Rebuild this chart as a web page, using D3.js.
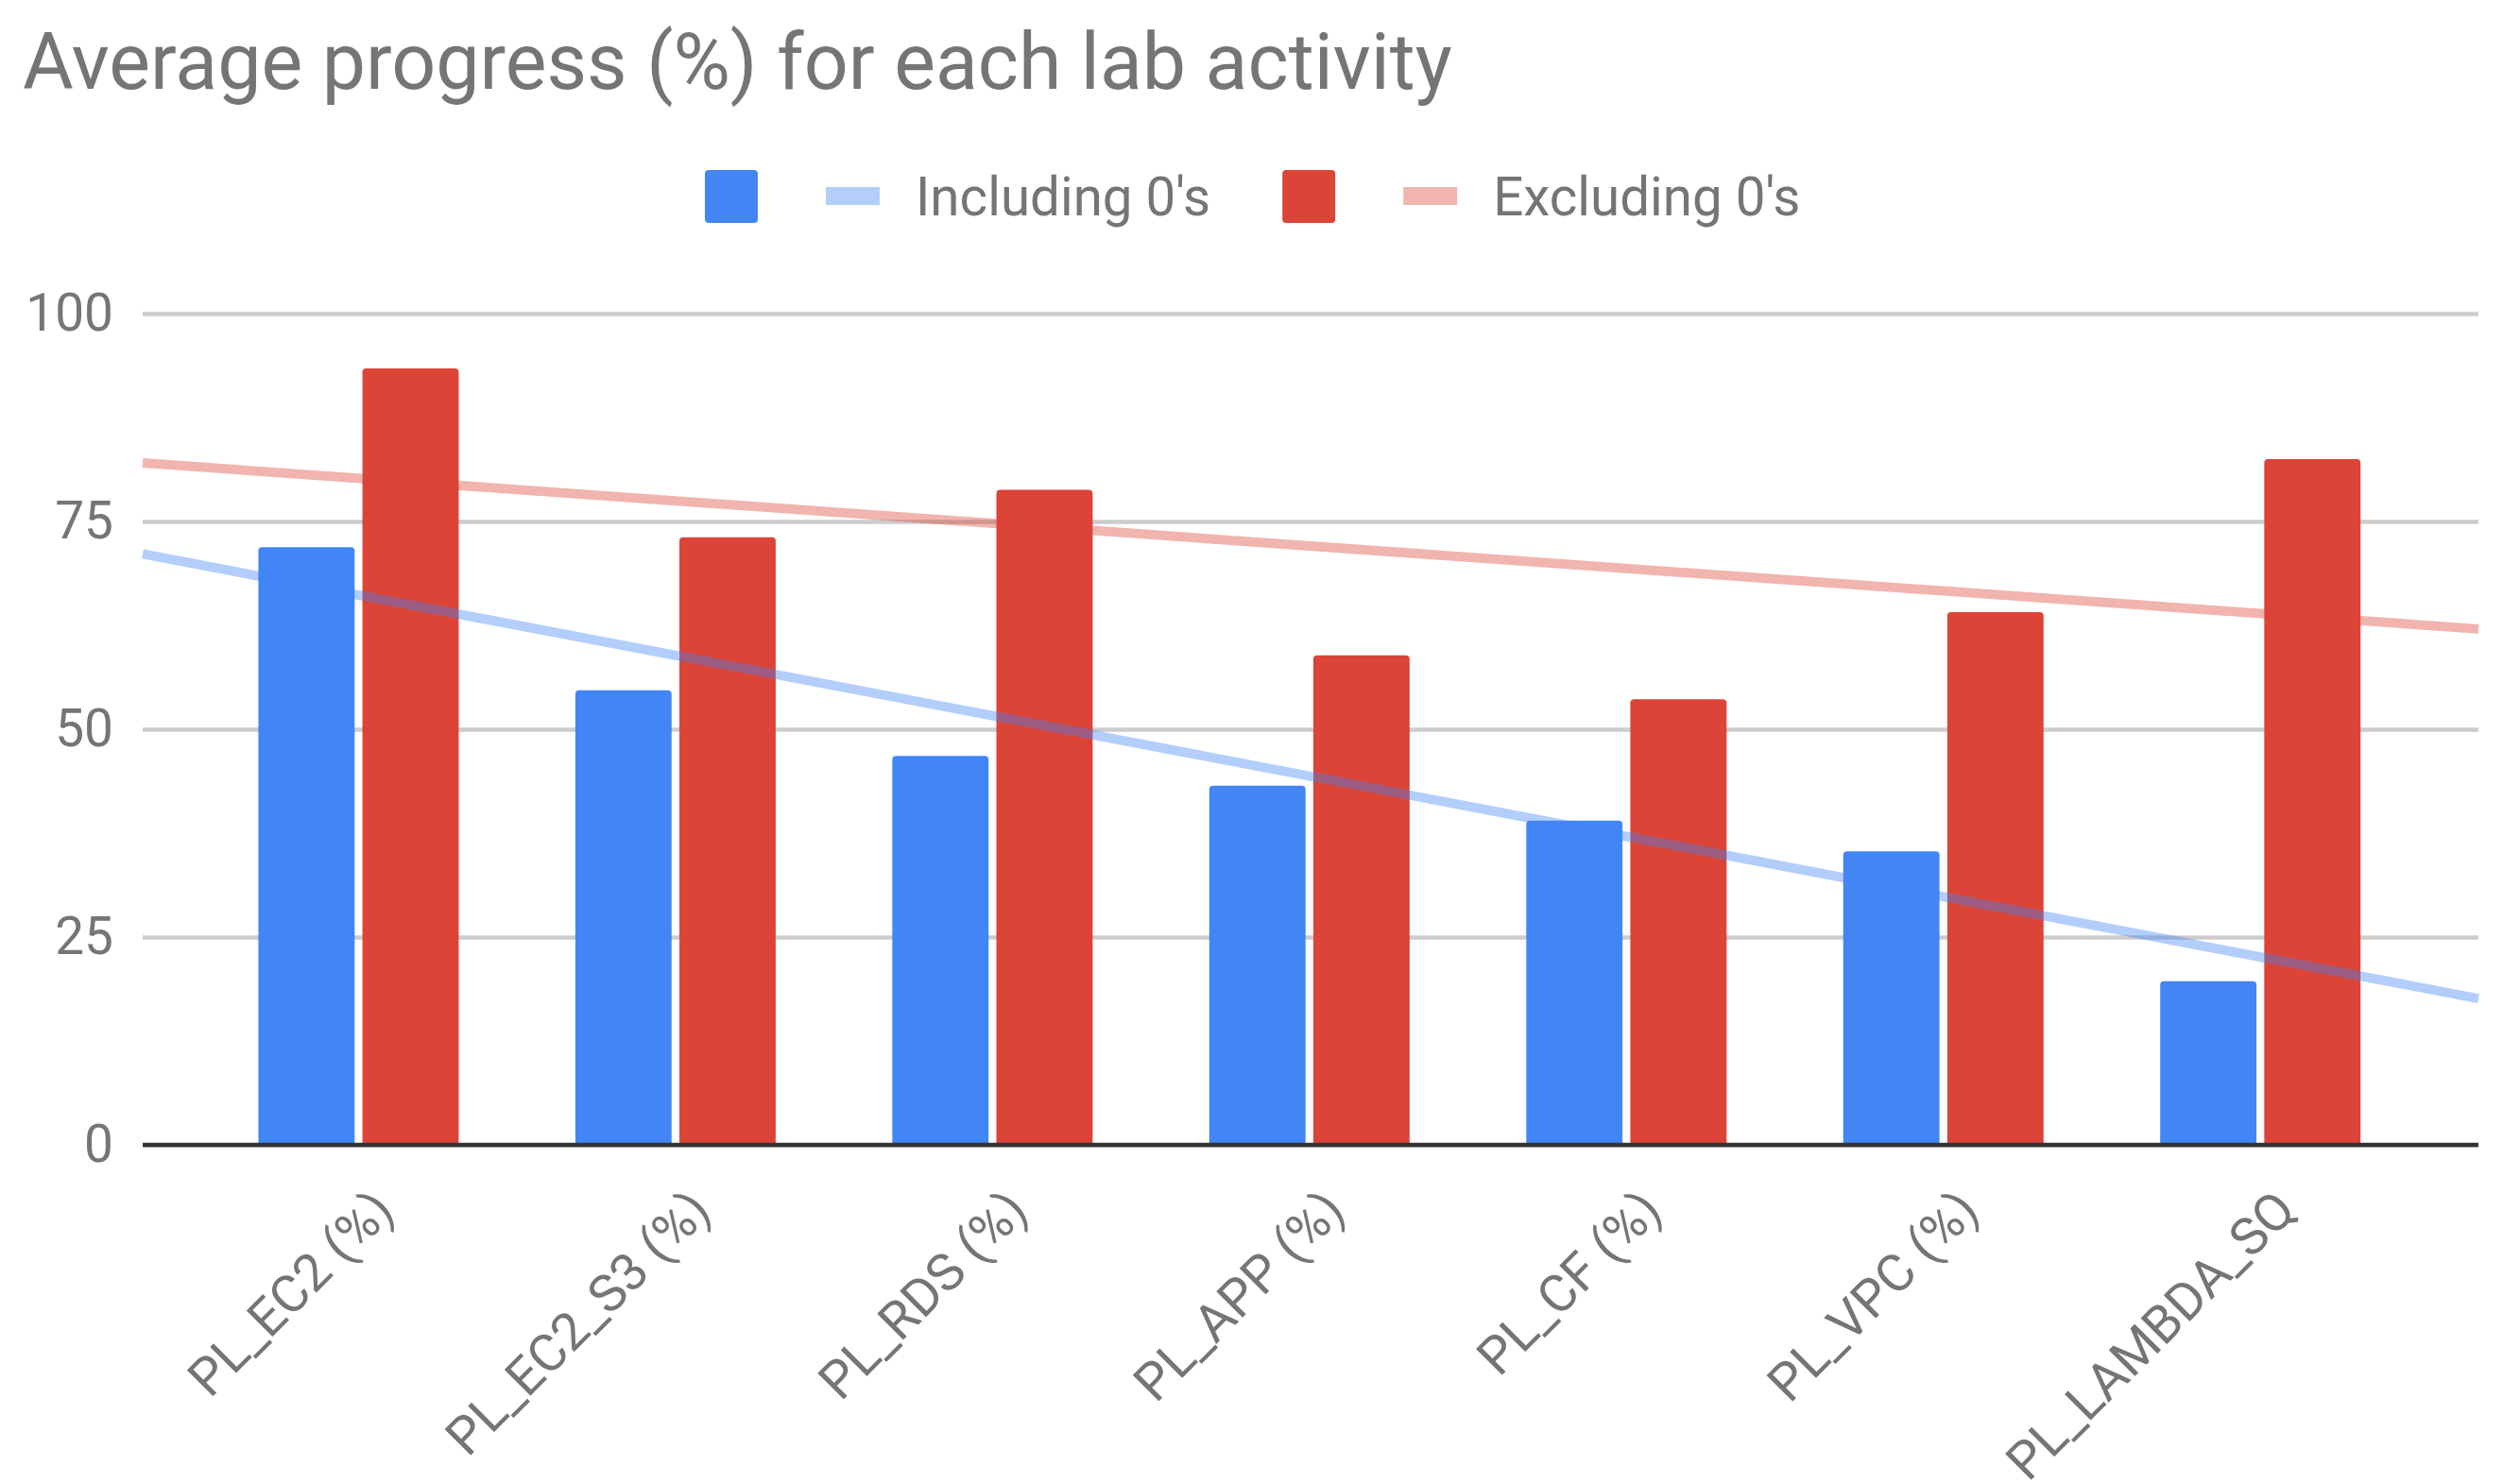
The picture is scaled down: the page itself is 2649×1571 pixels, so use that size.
<!DOCTYPE html>
<html>
<head>
<meta charset="utf-8">
<script src="https://cdn.jsdelivr.net/npm/d3@7"></script>
<style>
  body { margin: 0; background: #fff; }
  text { font-family: Roboto, "Noto Sans", sans-serif; fill: #757575; }
</style>
</head>
<body>
<div id="chart"></div>
<script>
// chart data
var categories = ["PL_EC2 (%)", "PL_EC2_S3 (%)", "PL_RDS (%)", "PL_APP (%)", "PL_CF (%)", "PL_VPC (%)", "PL_LAMBDA_SQ"];
var includingZeros = [71.9, 54.7, 46.8, 43.2, 39.0, 35.3, 19.7];
var excludingZeros = [93.4, 73.1, 78.8, 58.9, 53.6, 64.1, 82.5];
var seriesNames = ["Including 0's", "Excluding 0's"];
var yTicks = [0, 25, 50, 75, 100];

var barColors = ["#4285f4", "#db4437"];

var svgWidth = 2649;
var svgHeight = 1571;

var margin = { top: 332, bottom: 359, left: 151, right: 26 };
var chartWidth = svgWidth - margin.left - margin.right;
var chartHeight = svgHeight - margin.top - margin.bottom;

var svg = d3.select("#chart")
    .append("svg")
    .attr("width", svgWidth)
    .attr("height", svgHeight);

// title
svg.append("text")
    .attr("x", 24)
    .attr("y", 94)
    .style("font-size", "82.5px")
    .text("Average progress (%) for each lab activity");

var chartGroup = svg.append("g")
    .attr("transform", `translate(${margin.left}, ${margin.top})`);

// x is continuous (category index) because of the trendlines
var xScale = d3.scaleLinear()
    .domain([-0.681, 6.688])
    .range([0, chartWidth]);

var subScale = d3.scaleBand()
    .domain([0, 1])
    .range([-106, 106])
    .paddingInner(0.075);

var yScale = d3.scaleLinear()
    .domain([0, 100])
    .range([chartHeight, 0]);

// gridlines + y labels
var yAxis = d3.axisLeft(yScale)
    .tickValues(yTicks)
    .tickSize(-chartWidth)
    .tickPadding(31);

var yG = chartGroup.append("g").call(yAxis);
yG.select(".domain").remove();
yG.selectAll(".tick line")
    .attr("stroke", "#cccccc")
    .attr("stroke-width", 4.5);
yG.selectAll(".tick text")
    .attr("fill", "#757575")
    .style("font-size", "55px")
    .style("font-family", "Roboto, sans-serif");

// bars
var series = [includingZeros, excludingZeros];
var r = 4;
function barPath(x, y, w, h) {
    return `M${x},${y + h}V${y + r}Q${x},${y} ${x + r},${y}H${x + w - r}Q${x + w},${y} ${x + w},${y + r}V${y + h}Z`;
}

series.forEach(function(values, s) {
    chartGroup.append("g")
        .selectAll("path")
        .data(values)
        .enter()
        .append("path")
        .attr("fill", barColors[s])
        .attr("d", function(d, i) {
            var x = xScale(i) + subScale(s);
            return barPath(x, yScale(d), subScale.bandwidth(), chartHeight - yScale(d));
        });
});

// baseline
chartGroup.append("line")
    .attr("x1", 0)
    .attr("x2", chartWidth)
    .attr("y1", yScale(0))
    .attr("y2", yScale(0))
    .attr("stroke", "#333333")
    .attr("stroke-width", 4.5);

// linear trendlines (least squares on index)
function trend(values) {
    var mx = d3.mean(values, (d, i) => i);
    var my = d3.mean(values);
    var sxy = d3.sum(values, (d, i) => (i - mx) * (d - my));
    var sxx = d3.sum(values, (d, i) => (i - mx) * (i - mx));
    var slope = sxy / sxx;
    return { slope: slope, intercept: my - slope * mx };
}

var line = d3.line()
    .x(d => xScale(d[0]))
    .y(d => yScale(d[1]));

series.forEach(function(values, s) {
    var t = trend(values);
    var pts = xScale.domain().map(x => [x, t.intercept + t.slope * x]);
    chartGroup.append("path")
        .datum(pts)
        .attr("d", line)
        .attr("fill", "none")
        .attr("stroke", barColors[s])
        .attr("stroke-opacity", 0.4)
        .attr("stroke-width", 10);
});

// x labels, slanted
chartGroup.append("g")
    .selectAll("text")
    .data(categories)
    .enter()
    .append("text")
    .attr("x", (d, i) => xScale(i) + 40)
    .attr("y", chartHeight + 72)
    .attr("transform", (d, i) => `rotate(-45, ${xScale(i) + 40}, ${chartHeight + 72})`)
    .attr("text-anchor", "end")
    .style("font-size", "55px")
    .text(d => d);

// legend
var legend = svg.append("g");
var lx = 746;
seriesNames.forEach(function(name, s) {
    legend.append("rect")
        .attr("x", lx).attr("y", 180)
        .attr("width", 56).attr("height", 56)
        .attr("rx", 4)
        .attr("fill", barColors[s]);
    legend.append("rect")
        .attr("x", lx + 128).attr("y", 198)
        .attr("width", 57).attr("height", 19)
        .attr("fill", barColors[s])
        .attr("fill-opacity", 0.4);
    var t = legend.append("text")
        .attr("x", lx + 223)
        .attr("y", 228)
        .style("font-size", "56.5px")
        .text(name);
    lx = lx + 223 + t.node().getComputedTextLength() + 76;
});
</script>
</body>
</html>
